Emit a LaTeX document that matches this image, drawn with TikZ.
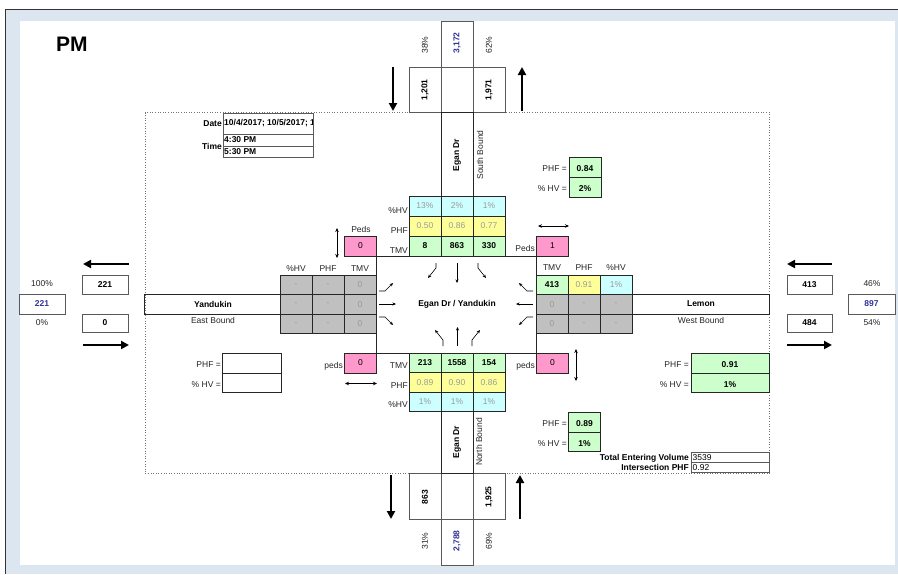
\documentclass[tikz,border=0pt]{standalone}
\usepackage{fontspec}
\setmainfont{Liberation Sans}
\usetikzlibrary{arrows.meta}
\definecolor{bandc}{HTML}{DCE6F1}
\definecolor{cyanc}{HTML}{CCFFFF}
\definecolor{yelc}{HTML}{FFFF99}
\definecolor{grnc}{HTML}{CCFFCC}
\definecolor{pinkc}{HTML}{FF99CC}
\definecolor{greyc}{HTML}{C0C0C0}
\definecolor{greyt}{HTML}{9A9A9A}
\definecolor{bluet}{HTML}{333399}
\newcommand\fsz{\fontsize{8.5}{10}\selectfont}
\begin{document}
\begin{tikzpicture}[x=1pt,y=-1pt,
 lab/.style={font=\fsz, inner sep=0pt, text=black!85},
 blab/.style={font=\fsz\bfseries, inner sep=0pt},
 cellbox/.style={draw=black!85, line width=0.8pt, minimum width=32pt, minimum height=19.5pt, inner sep=0pt, font=\fsz},
 tmv/.style={cellbox, fill=grnc, font=\fsz\bfseries},
 phf/.style={cellbox, fill=yelc, text=greyt},
 hv/.style={cellbox, fill=cyanc, text=greyt},
 gry/.style={cellbox, fill=greyc, text=greyt},
 pedbox/.style={cellbox, fill=pinkc, minimum height=20pt},
 thinbox/.style={draw=black!65, line width=0.5pt},
 road/.style={draw=black!85, line width=0.8pt},
 bigarrow/.style={line width=2.2pt, -{Triangle[length=8pt,width=8pt]}},
 dbl/.style={line width=0.6pt, {Stealth[length=4pt,width=3.5pt]}-{Stealth[length=4pt,width=3.5pt]}},
 turn/.style={line width=0.6pt, -{Stealth[length=3.5pt,width=3pt]}},
 sumbox/.style={draw=black!65, line width=0.5pt, minimum width=46pt, minimum height=19pt, inner sep=0pt, font=\fsz\bfseries},
 pbox/.style={draw=black!85, line width=0.8pt},
]
\useasboundingbox (0,0) rectangle (898,574);
% frame
\fill[bandc] (5,9) rectangle (898,574);
\fill[white] (20,21) rectangle (895,565);
\draw[black!80, line width=1pt] (5,574) -- (5,9) -- (898,9);
\node[font=\fontsize{21}{24}\selectfont\bfseries, inner sep=0pt, anchor=west] (title) at (56,44) {PM};
% dotted frame
\draw[black!55, dotted, line width=0.6pt] (145,112.5) rectangle (769.5,473.5);
% date box
\draw[thinbox, line width=0.7pt] (223,113) rectangle (313,157.5);
\draw[thinbox, line width=0.7pt] (223,134) -- (313,134) (223,146) -- (313,146);
\node[blab, anchor=east] (datel) at (222,123.5) {Date};
\node[blab, anchor=east] (timel) at (222,146) {Time};
\begin{scope}
\clip (223.5,113.5) rectangle (312.6,133.6);
\node[blab, anchor=west] (datev) at (224,123.5) {10/4/2017; 10/5/2017; 1};
\end{scope}
\node[blab, anchor=west] (t1) at (224,139.5) {4:30 PM};
\node[blab, anchor=west] (t2) at (224,152) {5:30 PM};
% top boxes
\draw[thinbox] (441,21) rectangle (473,112);
\draw[thinbox] (409,67) rectangle (505,112);
\node[lab, rotate=90] (npl) at (425,45) {38\%};
\node[blab, rotate=90, text=bluet] (ntot) at (457,43) {3,172};
\node[lab, rotate=90] (npr) at (489,45) {62\%};
\node[blab, rotate=90] (nout) at (425,90) {1,201};
\node[blab, rotate=90] (nin) at (489,90) {1,971};
\coordinate (nda) at (393,67); \coordinate (ndb) at (393,111);
\draw[bigarrow] (nda) -- (ndb);
\coordinate (nua) at (522,111); \coordinate (nub) at (522,67);
\draw[bigarrow] (nua) -- (nub);
% bottom boxes
\draw[thinbox] (409,473) rectangle (505,519);
\draw[thinbox] (441,473) rectangle (473,565);
\node[blab, rotate=90] (sout) at (425,497) {863};
\node[blab, rotate=90] (sin) at (489,497) {1,925};
\node[lab, rotate=90] (spl) at (425,541) {31\%};
\node[blab, rotate=90, text=bluet] (stot) at (457,541) {2,788};
\node[lab, rotate=90] (spr) at (489,541) {69\%};
\coordinate (sda) at (391,475); \coordinate (sdb) at (391,519);
\draw[bigarrow] (sda) -- (sdb);
\coordinate (sua) at (520,519); \coordinate (sub) at (520,475);
\draw[bigarrow] (sua) -- (sub);
% left side
\node[sumbox, minimum height=19pt] (wout) at (105,284.5) {221};
\node[sumbox, minimum height=18pt] (win) at (105,323) {0};
\node[sumbox, text=bluet, minimum height=20pt] (wtot) at (42,304) {221};
\node[lab] (wpt) at (42,284) {100\%};
\node[lab] (wpb) at (42,323) {0\%};
\coordinate (wa1) at (129,264); \coordinate (wa2) at (83,264);
\draw[bigarrow] (wa1) -- (wa2);
\coordinate (wb1) at (83,345); \coordinate (wb2) at (129,345);
\draw[bigarrow] (wb1) -- (wb2);
% right side
\node[sumbox, minimum width=45pt] (ein) at (809.5,284.5) {413};
\node[sumbox, minimum width=45pt, minimum height=18pt] (eout) at (809.5,323) {484};
\node[sumbox, minimum width=47pt, text=bluet, minimum height=20pt] (etot) at (871.5,304) {897};
\node[lab] (ept) at (872,284) {46\%};
\node[lab] (epb) at (872,323) {54\%};
\coordinate (ea1) at (832,264); \coordinate (ea2) at (787,264);
\draw[bigarrow] (ea1) -- (ea2);
\coordinate (eb1) at (787,345); \coordinate (eb2) at (832,345);
\draw[bigarrow] (eb1) -- (eb2);
% roads
\draw[road] (441,112) rectangle (473,196);
\node[blab, rotate=90] (nroad) at (457,155) {Egan Dr};
\node[lab, rotate=90] (nbound) at (480,155) {South Bound};
\draw[road] (441,411.5) rectangle (473,473);
\node[blab, rotate=90] (sroad) at (457,442) {Egan Dr};
\node[lab, rotate=90] (sbound) at (479,442) {North Bound};
\draw[road] (144,294.5) rectangle (280,314);
\node[blab] (wroad) at (213,304) {Yandukin};
\node[lab] (wbound) at (213,320.5) {East Bound};
\draw[road] (632,294.5) rectangle (769,314);
\node[blab] (eroad) at (701,304) {Lemon};
\node[lab] (ebound) at (701,320.5) {West Bound};
% intersection
\draw[road] (376,256) rectangle (536,353);
\node[blab] (center) at (457,304) {Egan Dr / Yandukin};
% north table
\node[hv, minimum height=20pt] (nh1) at (425,206) {13\%};
\node[hv, minimum height=20pt] (nh2) at (457,206) {2\%};
\node[hv, minimum height=20pt] (nh3) at (489,206) {1\%};
\node[phf, minimum height=20pt] (np1) at (425,226) {0.50};
\node[phf, minimum height=20pt] (np2) at (457,226) {0.86};
\node[phf, minimum height=20pt] (np3) at (489,226) {0.77};
\node[tmv, minimum height=20pt] (nt1) at (425,246) {8};
\node[tmv, minimum height=20pt] (nt2) at (457,246) {863};
\node[tmv, minimum height=20pt] (nt3) at (489,246) {330};
\node[lab, anchor=base east] (nlh) at (408,213) {\%HV};
\node[lab, anchor=base east] (nlp) at (408,233) {PHF};
\node[lab, anchor=base east] (nlt) at (408,253) {TMV};
% south table
\node[tmv] (st1) at (425,362.75) {213};
\node[tmv] (st2) at (457,362.75) {1558};
\node[tmv] (st3) at (489,362.75) {154};
\node[phf] (sp1) at (425,382.25) {0.89};
\node[phf] (sp2) at (457,382.25) {0.90};
\node[phf] (sp3) at (489,382.25) {0.86};
\node[hv] (sh1) at (425,401.75) {1\%};
\node[hv] (sh2) at (457,401.75) {1\%};
\node[hv] (sh3) at (489,401.75) {1\%};
\node[lab, anchor=base east] (slt) at (408,368) {TMV};
\node[lab, anchor=base east] (slp) at (408,388) {PHF};
\node[lab, anchor=base east] (slh) at (408,407) {\%HV};
% west table
\foreach \r/\y in {1/284.75,2/304.25,3/323.75}{
 \node[gry] (wg1\r) at (296,\y) {-};
 \node[gry] (wg2\r) at (328,\y) {-};
 \node[gry] (wg3\r) at (360,\y) {0};
}
\node[lab] (wlh) at (296,268.5) {\%HV};
\node[lab] (wlp) at (328,268.5) {PHF};
\node[lab] (wlt) at (360,268.5) {TMV};
% east table
\node[tmv] (et1) at (552,284.75) {413};
\node[phf] (ep1) at (584,284.75) {0.91};
\node[hv] (eh1) at (616,284.75) {1\%};
\foreach \r/\y in {2/304.25,3/323.75}{
 \node[gry] (eg1\r) at (552,\y) {0};
 \node[gry] (eg2\r) at (584,\y) {-};
 \node[gry] (eg3\r) at (616,\y) {-};
}
\node[lab] (elt) at (552,267.5) {TMV};
\node[lab] (elp) at (584,267.5) {PHF};
\node[lab] (elh) at (616,267.5) {\%HV};
% peds
\node[pedbox] (pnw) at (360.5,246) {0};
\node[lab] (pnwl) at (361,229.5) {Peds};
\node[pedbox] (pne) at (552.5,246) {1};
\node[lab, anchor=east] (pnel) at (535,248.5) {Peds};
\node[pedbox] (psw) at (360.5,363) {0};
\node[lab, anchor=east] (pswl) at (343,366) {peds};
\node[pedbox] (pse) at (552.5,363) {0};
\node[lab, anchor=east] (psel) at (535,366) {peds};
\coordinate (dnw1) at (337,228); \coordinate (dnw2) at (337,258);
\draw[dbl] (dnw1) -- (dnw2);
\coordinate (dne1) at (538,226); \coordinate (dne2) at (569,226);
\draw[dbl] (dne1) -- (dne2);
\coordinate (dsw1) at (345,383.5); \coordinate (dsw2) at (377,383.5);
\draw[dbl] (dsw1) -- (dsw2);
\coordinate (dse1) at (576,349); \coordinate (dse2) at (576,381);
\draw[dbl] (dse1) -- (dse2);
% turn arrows
\draw[turn] (436,263) -- (436,268) -- (428,278);
\draw[turn] (457,263) -- (457,283);
\draw[turn] (478,263) -- (478,268) -- (486,278);
\draw[turn] (379,291) -- (385,291) -- (393,283);
\draw[turn] (379,304) -- (396,304);
\draw[turn] (379,317) -- (385,317) -- (393,325);
\draw[turn] (533,291) -- (527,291) -- (519,283);
\draw[turn] (533,304) -- (516,304);
\draw[turn] (533,317) -- (527,317) -- (519,325);
\draw[turn] (443,346) -- (443,340) -- (435,330);
\draw[turn] (457.5,346) -- (457.5,327);
\draw[turn] (472,346) -- (472,340) -- (480,330);
% PHF boxes
\draw[pbox, fill=grnc] (569,157) rectangle (601,197);
\draw[pbox] (569,177) -- (601,177);
\node[lab, anchor=base east] (nphfl) at (567,171) {PHF =};
\node[lab, anchor=base east] (nhvl) at (567,191) {\% HV =};
\node[blab, anchor=base] (nphf) at (585,171) {0.84};
\node[blab, anchor=base] (nhv) at (585,191) {2\%};
\draw[pbox] (222,353.5) rectangle (281,392.5);
\draw[pbox] (222,373) -- (281,373);
\node[lab, anchor=base east] (wphfl) at (221,367.5) {PHF =};
\node[lab, anchor=base east] (whvl) at (221,387) {\% HV =};
\draw[pbox, fill=grnc] (691,353.5) rectangle (769,392.5);
\draw[pbox] (691,373) -- (769,373);
\node[lab, anchor=base east] (ephfl) at (689,367.5) {PHF =};
\node[lab, anchor=base east] (ehvl) at (689,387) {\% HV =};
\node[blab, anchor=base] (ephf) at (730,367.5) {0.91};
\node[blab, anchor=base] (ehv) at (730,387) {1\%};
\draw[pbox, fill=grnc] (568.5,412) rectangle (600.5,451.5);
\draw[pbox] (568.5,432.5) -- (600.5,432.5);
\node[lab, anchor=base east] (sphfl) at (567,426.5) {PHF =};
\node[lab, anchor=base east] (shvl) at (567,446) {\% HV =};
\node[blab, anchor=base] (sphf) at (584.5,426.5) {0.89};
\node[blab, anchor=base] (shv) at (584.5,446) {1\%};
% totals
\draw[thinbox, line width=0.7pt] (691,452.8) rectangle (769,472.8);
\draw[thinbox, line width=0.7pt] (691,462.8) -- (769,462.8);
\node[blab, anchor=base east] (tevl) at (689,460.8) {Total Entering Volume};
\node[blab, anchor=base east] (iphfl) at (689,470.8) {Intersection PHF};
\node[lab, anchor=base west, text=black] (tev) at (692.5,460.8) {3539};
\node[lab, anchor=base west, text=black] (iphf) at (692.5,470.8) {0.92};
\end{tikzpicture}
\end{document}
